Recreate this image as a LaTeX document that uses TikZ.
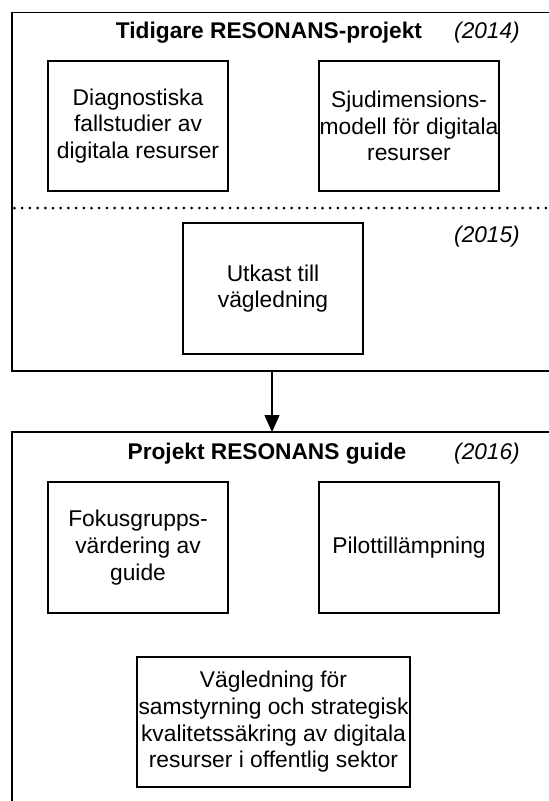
\documentclass[tikz,border=0pt]{standalone}
\usepackage{fontspec}
\setmainfont{Liberation Sans}
\usetikzlibrary{arrows.meta}
\begin{document}
\begin{tikzpicture}[x=1pt,y=-1pt,
  stage/.style={draw, line width=1.3pt, inner sep=0pt, align=center,
    minimum width=180pt, minimum height=130pt,
    font=\fontsize{22.8}{26.7}\selectfont},
  heading/.style={font=\fontsize{22.7}{26}\selectfont\bfseries},
  year/.style={font=\fontsize{22.7}{26}\selectfont\itshape},
  frame/.style={line width=1.5pt}]
\useasboundingbox (0,0) rectangle (549,801);

% Earlier projects (2014--2015)
\draw[frame] (560,12.5) -- (12,12.5) -- (12,371) -- (560,371);
\node[heading] (oldtitle) at (269,33) {Tidigare RESONANS-projekt};
\node[year] (y2014) at (487,33) {(2014)};
\node[stage] (diag) at (138,126) {Diagnostiska\\fallstudier av\\digitala resurser};
\node[stage] (model) at (409,126) {Sjudimensions-\\modell för digitala\\resurser};
\draw[line width=3pt, line cap=round, dash pattern=on 0pt off 7.7pt]
  (14.5,208) -- (560,208);
\node[year] (y2015) at (487,237) {(2015)};
\node[stage, minimum height=131pt] (draft) at (273,288.5) {Utkast till\\vägledning};

% RESONANS guide project (2016)
\draw[frame] (560,432) -- (12,432) -- (12,815);
\coordinate (oldbottom) at (272,371);
\coordinate (newtop) at (272,432);
\draw[line width=1.3pt, -{Triangle[width=15pt,length=17pt]}] (oldbottom) -- (newtop);
\node[heading] (newtitle) at (267,454) {Projekt RESONANS guide};
\node[year] (y2016) at (487,454) {(2016)};
\node[stage, minimum height=131pt] (focus) at (138,547.5) {Fokusgrupps-\\värdering av\\guide};
\node[stage, minimum height=131pt] (pilot) at (409,547.5) {Pilottillämpning};
\node[stage, minimum width=273pt] (guide) at (273.5,722)
  {Vägledning för\\samstyrning och strategisk\\kvalitetssäkring av digitala\\resurser i offentlig sektor};
\end{tikzpicture}
\end{document}
